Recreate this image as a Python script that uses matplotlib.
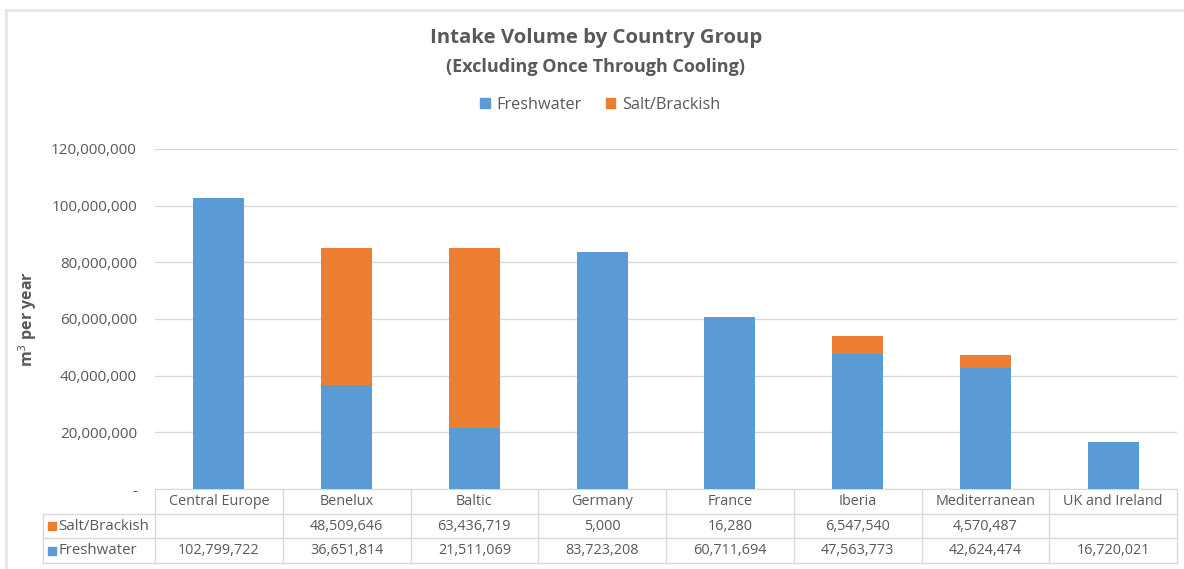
import matplotlib.pyplot as plt
from matplotlib.patches import Rectangle
from matplotlib.ticker import FuncFormatter
import matplotlib.transforms as mtransforms

plt.rcParams['font.family'] = ['Open Sans', 'DejaVu Sans']

regions = ["Central Europe", "Benelux", "Baltic", "Germany", "France",
           "Iberia", "Mediterranean", "UK and Ireland"]
freshwater = [102799722, 36651814, 21511069, 83723208, 60711694,
              47563773, 42624474, 16720021]
salt_brackish = [None, 48509646, 63436719, 5000, 16280,
                 6547540, 4570487, None]
y_ticks = [0, 20000000, 40000000, 60000000, 80000000, 100000000, 120000000]

blue = '#5B9BD5'
orange = '#ED7D31'
text_grey = '#595959'
line_grey = '#D9D9D9'

W, H = 1184, 569
fig = plt.figure(figsize=(W / 100.0, H / 100.0), dpi=100)
fig.patch.set_facecolor('white')

# plot box in pixels
left_px, right_px, top_px, base_px = 155, 1177, 149, 489
ax = fig.add_axes([left_px / W, 1 - base_px / H,
                   (right_px - left_px) / W, (base_px - top_px) / H])

x = list(range(len(regions)))
salt_vals = [v if v is not None else 0 for v in salt_brackish]
ax.bar(x, freshwater, width=0.4, color=blue, zorder=3)
ax.bar(x, salt_vals, width=0.4, bottom=freshwater, color=orange, zorder=3)

ax.set_xlim(-0.5, len(regions) - 0.5)
ax.set_ylim(0, 120000000)
ax.set_yticks(y_ticks)
ax.yaxis.set_major_formatter(FuncFormatter(lambda v, p: '-' if v == 0 else '{:,.0f}'.format(v)))
ax.tick_params(axis='y', length=0, pad=13, labelsize=11, labelcolor=text_grey)
ax.tick_params(axis='x', length=0, labelbottom=False)
ax.grid(axis='y', color=line_grey, linewidth=1, zorder=0)
for s in ['left', 'right', 'top']:
    ax.spines[s].set_visible(False)
ax.spines['bottom'].set_color(line_grey)

ax.set_ylabel('m$^3$ per year', fontsize=11.5, fontweight='bold', color=text_grey, labelpad=9)

# data table under the axis
trans = mtransforms.blended_transform_factory(ax.transData, ax.transAxes)
span = float(base_px - top_px)
def ypos(py):
    return (base_px - py) / span

row_edges = [489, 514, 538, 563]
col_w = (right_px - left_px) / len(regions)
label_left = -0.5 - (left_px - 43) / col_w

for py in row_edges[1:]:
    ax.plot([label_left, len(regions) - 0.5], [ypos(py)] * 2, color=line_grey,
            lw=1, transform=trans, clip_on=False)
for i in range(len(regions) + 1):
    ax.plot([i - 0.5] * 2, [ypos(489), ypos(563)], color=line_grey,
            lw=1, transform=trans, clip_on=False)
ax.plot([label_left] * 2, [ypos(514), ypos(563)], color=line_grey,
        lw=1, transform=trans, clip_on=False)

def mid(a, b):
    return (ypos(a) + ypos(b)) / 2.0

cell_size = 10.4
fmt = lambda v: '' if v is None else '{:,}'.format(v)
for i, name in enumerate(regions):
    ax.text(i, mid(489, 514), name, transform=trans, ha='center', va='center',
            fontsize=cell_size, color=text_grey)
    ax.text(i, mid(514, 538), fmt(salt_brackish[i]), transform=trans, ha='center',
            va='center', fontsize=cell_size, color=text_grey)
    ax.text(i, mid(538, 563), fmt(freshwater[i]), transform=trans, ha='center',
            va='center', fontsize=cell_size, color=text_grey)

sq_w = 8 / col_w
sq_h = 8 / span
for (py0, py1), label, color in [((514, 538), 'Salt/Brackish', orange),
                                 ((538, 563), 'Freshwater', blue)]:
    ym = mid(py0, py1)
    ax.add_patch(Rectangle((label_left + 5 / col_w, ym - sq_h / 2), sq_w, sq_h,
                           transform=trans, color=color, clip_on=False))
    ax.text(label_left + 15 / col_w, ym, label, transform=trans, ha='left',
            va='center', fontsize=10.8, color=text_grey)

# titles and legend
fig.text(596 / W, 1 - 38 / H, 'Intake Volume by Country Group', ha='center',
         va='center', fontsize=14.7, fontweight='bold', color=text_grey)
fig.text(596 / W, 1 - 67 / H, '(Excluding Once Through Cooling)', ha='center',
         va='center', fontsize=13, fontweight='bold', color=text_grey)
handles = [Rectangle((0, 0), 1, 1, color=blue), Rectangle((0, 0), 1, 1, color=orange)]
fig.legend(handles, ['Freshwater', 'Salt/Brackish'], loc='center',
           bbox_to_anchor=(600 / W, 1 - 105 / H), ncol=2, frameon=False,
           fontsize=11.7, labelcolor=text_grey, handlelength=0.6, handleheight=0.6,
           handletextpad=0.4, columnspacing=1.5)

# outer chart border
fig.patches.append(Rectangle((6 / W, -0.1), 1.2, 1 - 9.5 / H + 0.1,
                             transform=fig.transFigure, fill=False,
                             edgecolor='#E6E6E6', linewidth=2))

fig.savefig('out.png', dpi=100)
